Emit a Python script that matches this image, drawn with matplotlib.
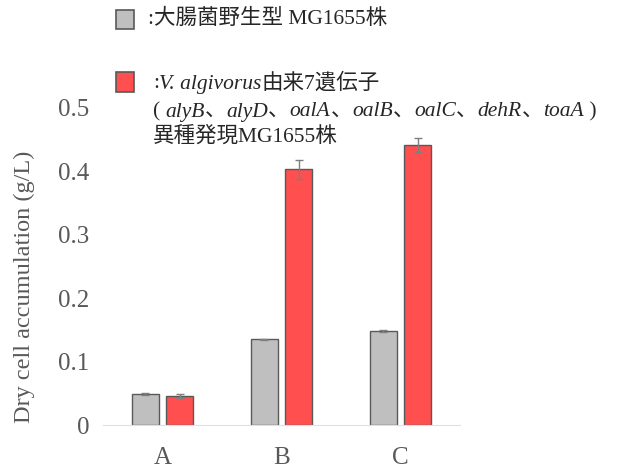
import matplotlib
matplotlib.use("Agg")
import matplotlib.pyplot as plt
from matplotlib.patches import Rectangle
import numpy as np

plt.rcParams['font.family'] = ['Liberation Serif', 'Noto Sans CJK JP']

# data
groups = ['A', 'B', 'C']
wild = [0.049, 0.135, 0.148]
wild_err = [0.002, 0.001, 0.002]
engineered = [0.046, 0.403, 0.441]
engineered_err = [0.003, 0.015, 0.011]

legend_wild = ':大腸菌野生型 MG1655株'
legend_eng = [
    [(':', 'normal'), ('V. algivorus', 'italic'), ('由来7遺伝子', 'normal')],
    [('( ', 'normal'), ('alyB', 'italic'), ('、', 'normal'), ('alyD', 'italic'),
     ('、', 'normal'), ('oalA', 'italic'), ('、', 'normal'), ('oalB', 'italic'),
     ('、', 'normal'), ('oalC', 'italic'), ('、', 'normal'), ('dehR', 'italic'),
     ('、', 'normal'), ('toaA', 'italic'), (' )', 'normal')],
    [('異種発現MG1655株', 'normal')],
]

gray = '#bfbfbf'
red = '#ff4f4f'
edge = '#595959'
tick_col = '#595959'

W, H = 623, 474
fig = plt.figure(figsize=(W / 100, H / 100), dpi=100)
ax = fig.add_axes([103 / W, 49 / H, 357 / W, 317 / H])

x = np.arange(len(groups))
bw = 0.224
off = 0.143
ax.bar(x - off, wild, bw, color=gray, edgecolor=edge, linewidth=1,
       yerr=wild_err, error_kw=dict(ecolor='#7f7f7f', elinewidth=1, capsize=3))
ax.bar(x + off, engineered, bw, color=red, edgecolor=edge, linewidth=1,
       yerr=engineered_err, error_kw=dict(ecolor='#7f7f7f', elinewidth=1, capsize=3))

ax.set_xlim(-0.5, 2.5)
ax.set_ylim(0, 0.5)
ax.set_yticks([0, 0.1, 0.2, 0.3, 0.4, 0.5])
ax.set_yticklabels(['0', '0.1', '0.2', '0.3', '0.4', '0.5'])
ax.set_xticks(x)
ax.set_xticklabels(groups)
ax.tick_params(length=0, labelsize=18, labelcolor=tick_col)
ax.tick_params(axis='x', pad=16)
ax.tick_params(axis='y', pad=10)
for s in ['top', 'right', 'left']:
    ax.spines[s].set_visible(False)
ax.spines['bottom'].set_color('#e0e0e0')
ax.set_ylabel('Dry cell accumulation (g/L)', fontsize=17.5, color=tick_col)
ax.yaxis.set_label_coords(-0.19, 0.435)

# legend drawn by hand at the top
fig.add_artist(Rectangle((116 / W, 1 - 29 / H), 18 / W, 19 / H, transform=fig.transFigure,
                         facecolor=gray, edgecolor=edge, linewidth=1.2))
fig.add_artist(Rectangle((116 / W, 1 - 92 / H), 18 / W, 20 / H, transform=fig.transFigure,
                         facecolor=red, edgecolor=edge, linewidth=1.2))

fs = 15.5
fig.text(148 / W, 1 - 19 / H, legend_wild, fontsize=fs, color='#262626', va='center')

renderer = fig.canvas.get_renderer()
line_y = [84, 112, 137]
for runs, yy in zip(legend_eng, line_y):
    xx = 153 / W
    for s, style in runs:
        t = fig.text(xx, 1 - yy / H, s, fontsize=fs, style=style, color='#262626', va='center')
        bb = t.get_window_extent(renderer)
        xx += bb.width / W

fig.savefig('out.png', dpi=100)
